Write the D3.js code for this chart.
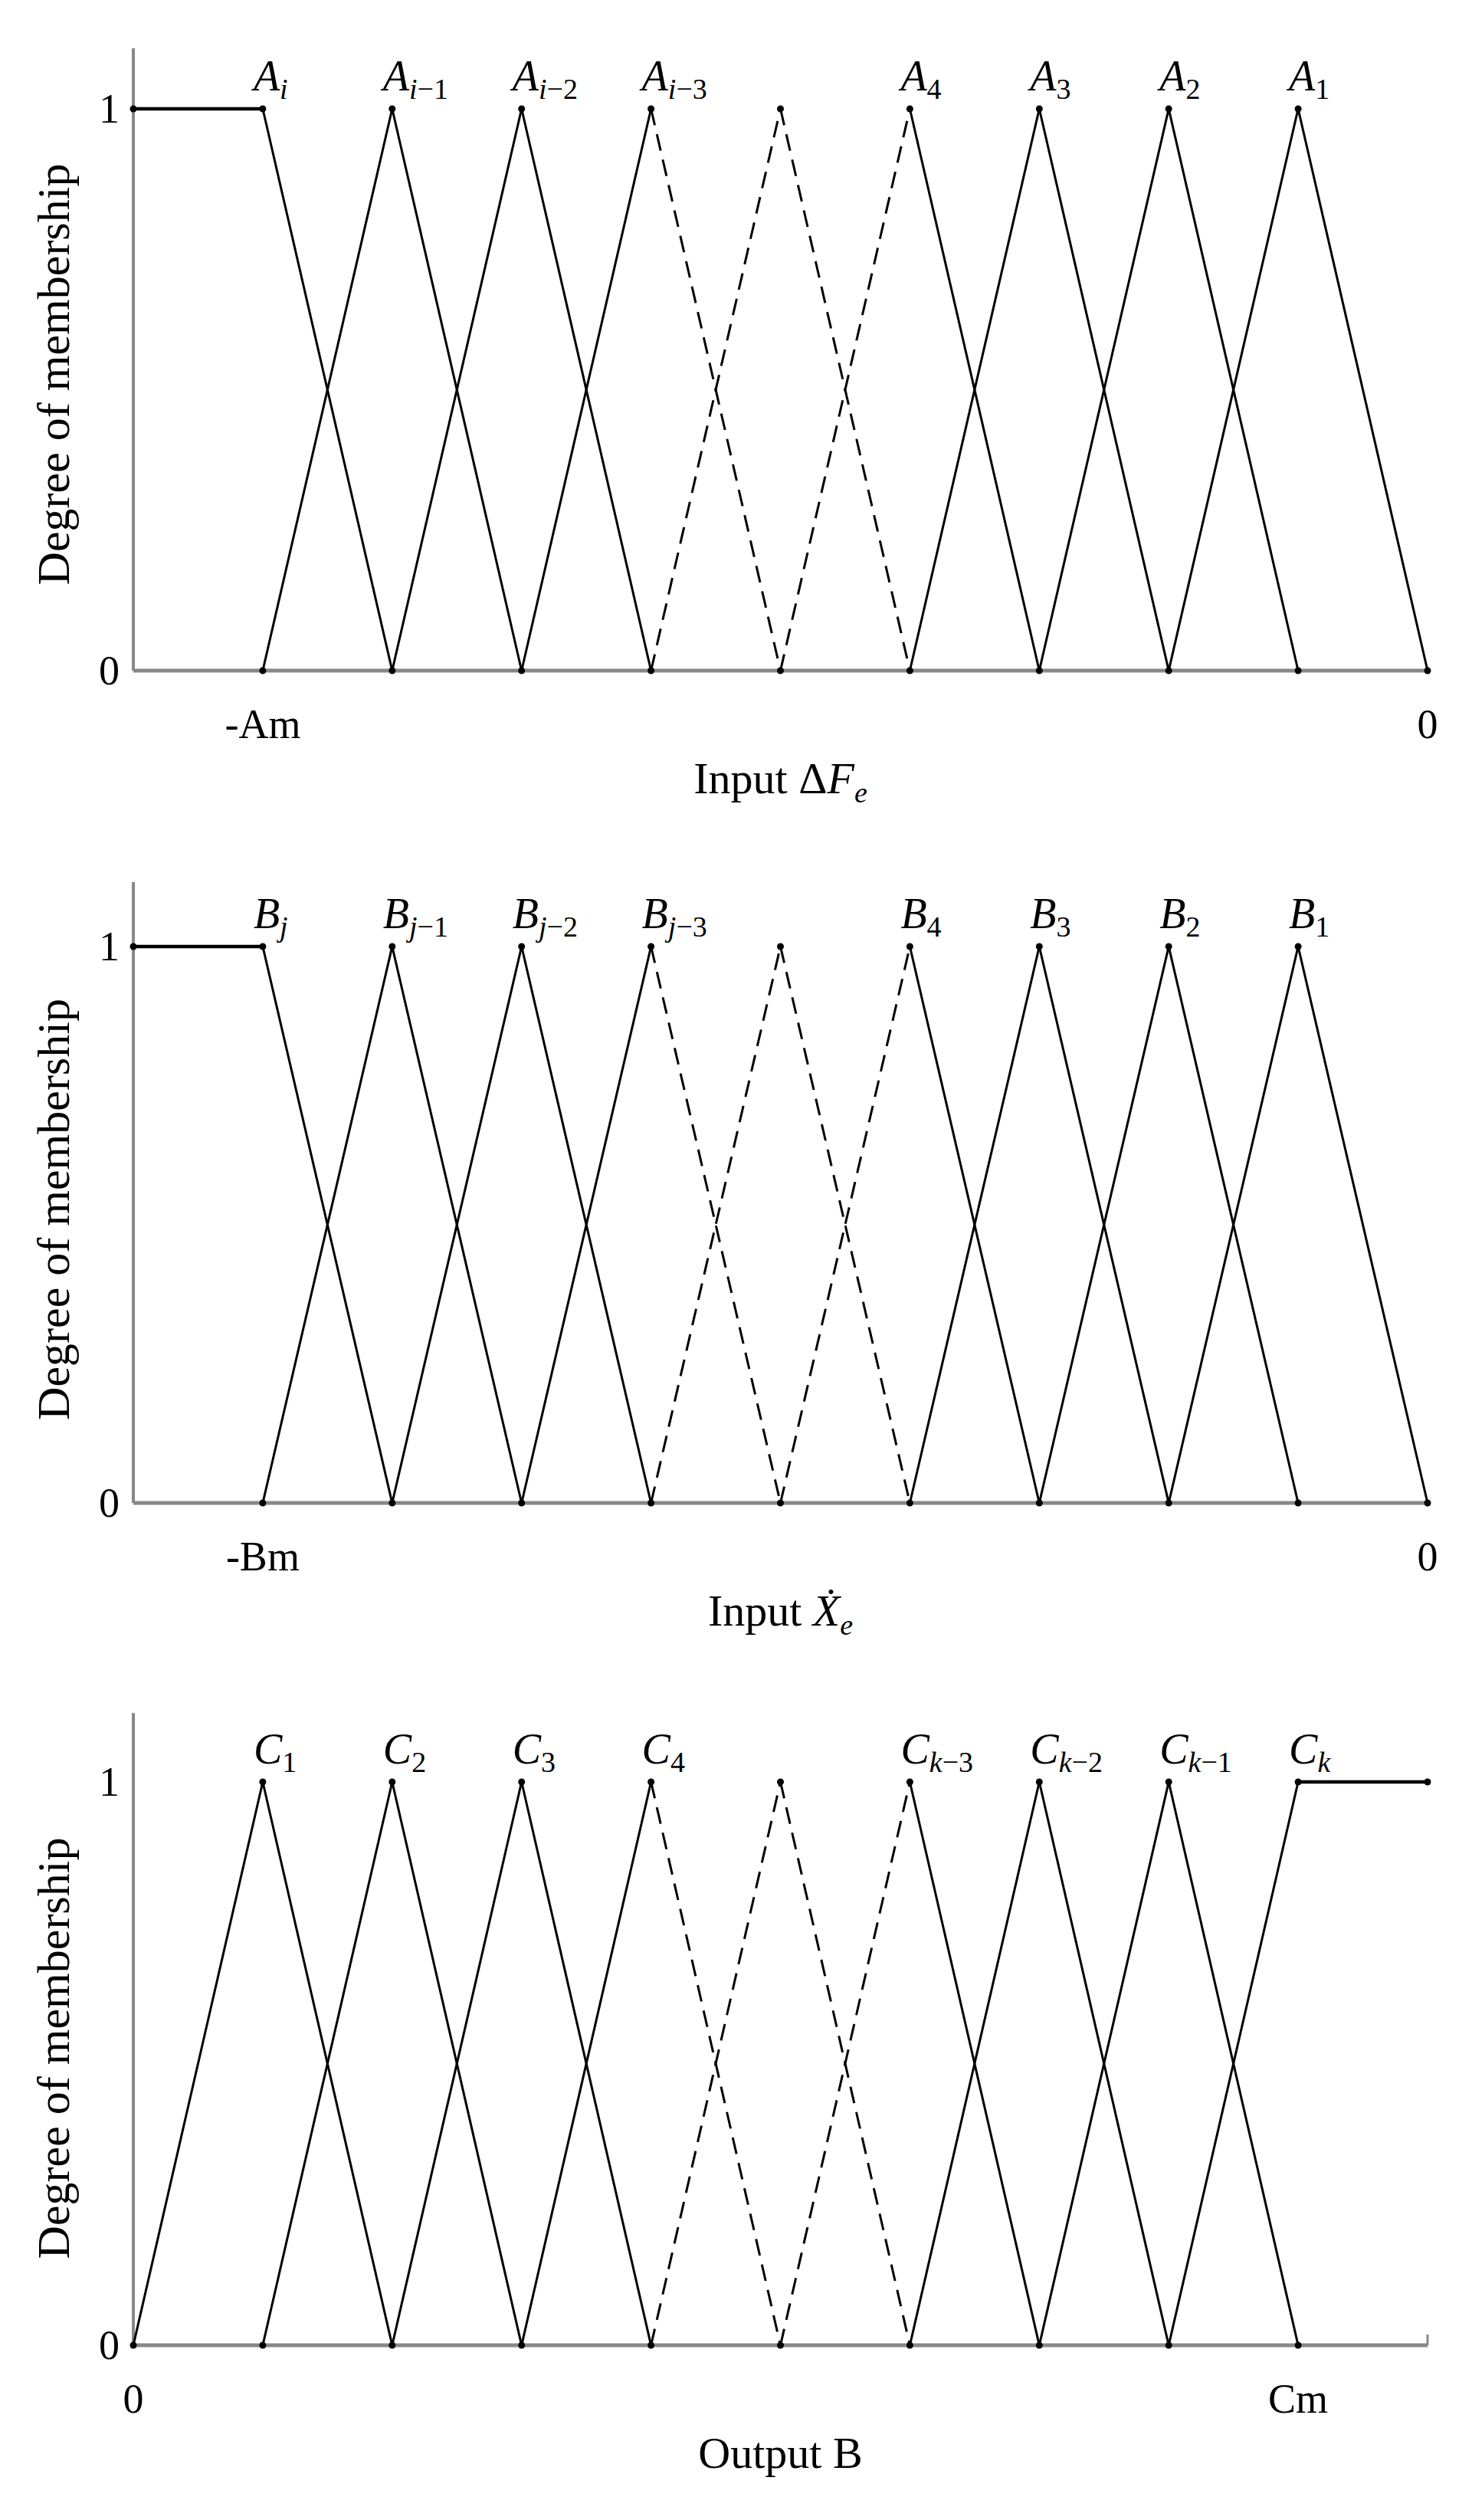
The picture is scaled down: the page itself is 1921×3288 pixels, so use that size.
<!DOCTYPE html>
<html><head><meta charset="utf-8">
<script src="https://cdn.jsdelivr.net/npm/d3@7/dist/d3.min.js"></script>
<style>body{margin:0;background:#fff}svg{display:block}</style>
</head><body>
<svg id="c" width="1921" height="3288"></svg>
<script>
// segments: [x0,y0,x1,y1,dashed]
const segsA = [
  [0,1,1,1,0],[1,1,2,0,0],
  [1,0,2,1,0],[2,1,3,0,0],
  [2,0,3,1,0],[3,1,4,0,0],
  [3,0,4,1,0],[4,1,5,0,1],
  [4,0,5,1,1],[5,1,6,0,1],
  [5,0,6,1,1],[6,1,7,0,0],
  [6,0,7,1,0],[7,1,8,0,0],
  [7,0,8,1,0],[8,1,9,0,0],
  [8,0,9,1,0],[9,1,10,0,0]
];
const segsC = [
  [0,0,1,1,0],[1,1,2,0,0],
  [1,0,2,1,0],[2,1,3,0,0],
  [2,0,3,1,0],[3,1,4,0,0],
  [3,0,4,1,0],[4,1,5,0,1],
  [4,0,5,1,1],[5,1,6,0,1],
  [5,0,6,1,1],[6,1,7,0,0],
  [6,0,7,1,0],[7,1,8,0,0],
  [7,0,8,1,0],[8,1,9,0,0],
  [8,0,9,1,0],[9,1,10,1,0]
];
const labelsA = [[1,"A","i"],[2,"A","i−1"],[3,"A","i−2"],[4,"A","i−3"],[6,"A","4"],[7,"A","3"],[8,"A","2"],[9,"A","1"]];
const labelsB = [[1,"B","j"],[2,"B","j−1"],[3,"B","j−2"],[4,"B","j−3"],[6,"B","4"],[7,"B","3"],[8,"B","2"],[9,"B","1"]];
const labelsC = [[1,"C","1"],[2,"C","2"],[3,"C","3"],[4,"C","4"],[6,"C","k−3"],[7,"C","k−2"],[8,"C","k−1"],[9,"C","k"]];
const ticksA = [[1,"-Am"],[10,"0"]];
const ticksB = [[1,"-Bm"],[10,"0"]];
const ticksC = [[0,"0"],[9,"Cm"]];
const panels = [
  {segs:segsA, labels:labelsA, ticks:ticksA, title:["Input Δ",""], titleIt:"F", titleSub:"e", y1:142, y0:875, top:63},
  {segs:segsA, labels:labelsB, ticks:ticksB, title:["Input ",""], titleIt:"X\u0307", titleSub:"e", y1:1235, y0:1961, top:1151},
  {segs:segsC, labels:labelsC, ticks:ticksC, title:["Output B",""], titleIt:"", titleSub:"", y1:2325, y0:3060, top:2235, endTick:true}
];
const svg = d3.select("#c");
const font = "'Liberation Serif','DejaVu Serif',serif";
const x = d3.scaleLinear().domain([0,10]).range([174,1863]);
function sub(t, s){
  // letters italic, digits/minus upright
  const re = /([a-z]+)|([^a-z]+)/g; let m;
  while((m = re.exec(s))){
    t.append("tspan").attr("font-style", m[1] ? "italic" : "normal").text(m[0]);
  }
}
panels.forEach(p=>{
  const y = d3.scaleLinear().domain([0,1]).range([p.y0,p.y1]);
  const g = svg.append("g");
  g.append("line").attr("x1",x(0)).attr("x2",x(0)).attr("y1",p.top).attr("y2",p.y0).attr("stroke","#888").attr("stroke-width",4);
  g.append("line").attr("x1",x(0)).attr("x2",x(10)).attr("y1",p.y0).attr("y2",p.y0).attr("stroke","#888").attr("stroke-width",5);
  if(p.endTick) g.append("line").attr("x1",x(10)).attr("x2",x(10)).attr("y1",p.y0).attr("y2",p.y0-14).attr("stroke","#888").attr("stroke-width",3);
  [[0,"0"],[1,"1"]].forEach(t=>{
    g.append("text").attr("x",x(0)-18).attr("y",y(t[0])+18).attr("text-anchor","end")
     .attr("font-family",font).attr("font-size",54).text(t[1]);
  });
  g.selectAll("line.s").data(p.segs).enter().append("line")
    .attr("x1",d=>x(d[0])).attr("y1",d=>y(d[1])).attr("x2",d=>x(d[2])).attr("y2",d=>y(d[3]))
    .attr("stroke","#000").attr("stroke-width",d=>(d[1]===d[3])?4.5:3)
    .attr("stroke-dasharray",d=>d[4]?"22,12":null);
  const pts = [];
  p.segs.forEach(s=>{pts.push([s[0],s[1]]);pts.push([s[2],s[3]]);});
  const uniq = Array.from(new Map(pts.map(q=>[q.join(","),q])).values());
  g.selectAll("circle").data(uniq).enter().append("circle")
    .attr("cx",d=>x(d[0])).attr("cy",d=>y(d[1])).attr("r",4.5).attr("fill","#000");
  p.labels.forEach(l=>{
    const t = g.append("text").attr("x",x(l[0])-12).attr("y",y(1)-24)
      .attr("font-family",font).attr("font-size",56);
    t.append("tspan").attr("font-style","italic").text(l[1]);
    const s = t.append("tspan").attr("dy",11).attr("font-size",38);
    sub(s, l[2]);
  });
  p.ticks.forEach(tk=>{
    g.append("text").attr("x",x(tk[0])).attr("y",p.y0+88).attr("text-anchor","middle")
     .attr("font-family",font).attr("font-size",54).text(tk[1]);
  });
  const tt = g.append("text").attr("x",x(5)).attr("y",p.y0+160).attr("text-anchor","middle")
    .attr("font-family",font).attr("font-size",58);
  tt.append("tspan").text(p.title[0]);
  if(p.titleIt) tt.append("tspan").attr("font-style","italic").text(p.titleIt);
  if(p.titleSub) tt.append("tspan").attr("dy",12).attr("font-size",38).attr("font-style","italic").text(p.titleSub);
  g.append("text").attr("transform",`translate(90,${(p.y1+p.y0)/2-20}) rotate(-90)`)
    .attr("text-anchor","middle").attr("font-family",font).attr("font-size",60).text("Degree of membership");
});
</script>
</body></html>
